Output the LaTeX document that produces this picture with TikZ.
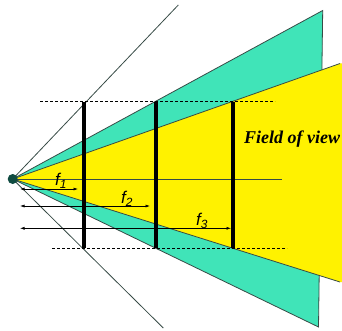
\documentclass[tikz,border=0pt]{standalone}
\usepackage{fontspec}
\setmainfont{Liberation Serif}
\setsansfont{Liberation Sans}
\usetikzlibrary{arrows.meta}

\definecolor{wedgegreen}{RGB}{64,228,184}
\definecolor{edgegray}{RGB}{55,75,70}
\definecolor{eyeteal}{RGB}{15,75,65}

\begin{document}
\begin{tikzpicture}[x=1pt, y=-1pt,
  edge/.style={edgegray, line width=0.8pt},
  guide/.style={black, line width=0.6pt, dash pattern=on 3pt off 2pt},
  screen/.style={black, line width=3.6pt},
  dist/.style={black, line width=0.6pt, {Latex[length=4.5pt,width=3pt]}-{Latex[length=4.5pt,width=3pt]}},
  flbl/.style={font=\sffamily\itshape\fontsize{17}{19}\selectfont}]
  \useasboundingbox (0,0) rectangle (342,331);
  \def\ytop{101.7} \def\ybot{248}

  \coordinate (eye) at (12.7,179);

  % outer wedge
  \fill[wedgegreen] (eye) -- (322.7,10.5) -- (318.5,327) -- cycle;
  \draw[edge] (eye) -- (322.7,10.5) -- (318.5,327) -- cycle;

  % inner wedge (field of view)
  \fill[yellow] (eye) -- (340,63.5) -- (342,63.5) -- (342,282) -- (340,282) -- cycle;
  \draw[edge] (340,63.5) -- (eye) -- (340,282);

  % rays through the first screen
  \draw[edge] (eye) -- (178.3,5);
  \draw[edge] (eye) -- (163.3,328);

  % optical axis
  \draw[edge] (eye) -- (281.7,179);

  % limits
  \draw[guide] (40,\ytop) -- (275,\ytop);
  \draw[guide] (52,\ybot) -- (287,\ybot);

  % screens
  \foreach \x in {84,156,232.7} {
    \draw[screen] (\x,\ytop) -- (\x,\ybot);
  }

  % distances
  \draw[dist] (20,189) -- (78,189);
  \draw[dist] (20,206) -- (150,206);
  \draw[dist] (20,228.3) -- (231,228.3);
  \node[flbl] (f1) at (61,181) {f\textsubscript{1}};
  \node[flbl] (f2) at (127,199) {f\textsubscript{2}};
  \node[flbl] (f3) at (202,221) {f\textsubscript{3}};

  \node[font=\bfseries\itshape\fontsize{18}{20}\selectfont, anchor=west, inner sep=0pt] (fov) at (244,139) {Field of view};

  % eye point
  \fill[eyeteal] (eye) circle (5);
\end{tikzpicture}
\end{document}
